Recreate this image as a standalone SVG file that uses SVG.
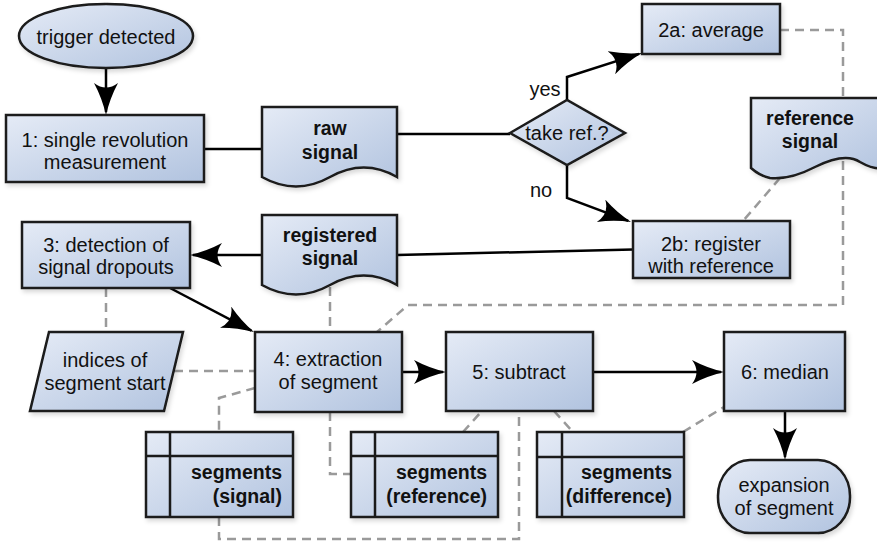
<svg xmlns="http://www.w3.org/2000/svg" width="877" height="546" viewBox="0 0 877 546">
<defs>
<linearGradient id="g" x1="0" y1="0" x2="1" y2="1">
<stop offset="0" stop-color="#e5ebf6"/>
<stop offset="1" stop-color="#b1c3df"/>
</linearGradient>
<filter id="sh" x="-10%" y="-10%" width="130%" height="130%">
<feDropShadow dx="2" dy="3" stdDeviation="2" flood-color="#000" flood-opacity="0.15"/>
</filter>
<marker id="arr" markerUnits="userSpaceOnUse" markerWidth="34" markerHeight="26" refX="29" refY="12" orient="auto">
<path d="M0,0 Q15,8 32,12 Q15,16 0,24 Q9,12 0,0 Z" fill="#000"/>
</marker>
<style>
.n{fill:url(#g);stroke:#1a1a1a;stroke-width:2.5;filter:url(#sh)}
.ln{fill:none;stroke:#1a1a1a;stroke-width:2.5}
.s{fill:none;stroke:#000;stroke-width:2.5}
.a{fill:none;stroke:#000;stroke-width:2.5;marker-end:url(#arr)}
.d{fill:none;stroke:#9a9a9a;stroke-width:2.5;stroke-dasharray:9,6}
text{font-family:"Liberation Sans",Arial,sans-serif;font-size:20px;fill:#111;text-anchor:middle}
.b{font-weight:bold;font-size:19.5px}
.r{text-anchor:end}
</style>
</defs>
<g id="connectors">
<path class="a" d="M106,68 V112"/>
<path class="s" d="M204,149 H262"/>
<path class="s" d="M397,134 H510"/>
<path class="a" d="M567,100 V77 L639.1,53.9"/>
<path class="a" d="M567,165 V198 L628.2,220.9"/>
<path class="s" d="M633,249.5 L397,255"/>
<path class="a" d="M262,255 H193"/>
<path class="a" d="M170,288 L251.3,330.6"/>
<path class="a" d="M402,372 H443"/>
<path class="a" d="M593,372 H721"/>
<path class="a" d="M785,411 V457"/>
<path class="d" d="M780,30 H843 V98"/>
<path class="d" d="M843,161 V305 H408 L377,332"/>
<path class="d" d="M780,178 L743,221"/>
<path class="d" d="M106,288 V332"/>
<path class="d" d="M330,287 V332"/>
<path class="d" d="M174,371 H255"/>
<path class="d" d="M255,388 L219,398 V432"/>
<path class="d" d="M219,517 V539 H519 V411"/>
<path class="d" d="M330,412 V474 H351"/>
<path class="d" d="M463,432 L482,411"/>
<path class="d" d="M554,411 L573,432"/>
<path class="d" d="M683,432 L724,407"/>
</g>
<g id="trigger">
<ellipse class="n" cx="106" cy="36" rx="87" ry="32"/>
<text x="106" y="44">trigger detected</text>
</g>
<g id="step1">
<rect class="n" x="6" y="115" width="198" height="67"/>
<text x="105" y="147">1: single revolution</text>
<text x="105" y="169">measurement</text>
</g>
<g id="rawsignal">
<path class="n" d="M262,107 H397 V177 Q364,158 330,177 T262,177 Z"/>
<text class="b" x="330" y="135">raw</text>
<text class="b" x="330" y="159">signal</text>
</g>
<g id="decision">
<polygon class="n" points="510,133 567,100 625,133 567,165"/>
<text x="567" y="140">take ref.?</text>
<text x="545" y="96">yes</text>
<text x="541" y="197">no</text>
</g>
<g id="step2a">
<rect class="n" x="642" y="4" width="138" height="50"/>
<text x="711" y="37">2a: average</text>
</g>
<g id="refsignal">
<path class="n" d="M751,98 H884 V168 Q874,170 860,162 Q845,152 815,167 Q790,180 770,178 Q760,176 751,168 Z"/>
<text class="b" x="810" y="125">reference</text>
<text class="b" x="810" y="148">signal</text>
</g>
<g id="step2b">
<rect class="n" x="633" y="221" width="157" height="57"/>
<text x="711" y="251">2b: register</text>
<text x="711" y="273">with reference</text>
</g>
<g id="regsignal">
<path class="n" d="M262,215 H397 V285 Q364,266 330,285 T262,285 Z"/>
<text class="b" x="330" y="242">registered</text>
<text class="b" x="330" y="265">signal</text>
</g>
<g id="step3">
<rect class="n" x="22" y="222" width="168" height="66"/>
<text x="106" y="252">3: detection of</text>
<text x="106" y="274">signal dropouts</text>
</g>
<g id="indices">
<polygon class="n" points="49,332 183,332 164,411 30,411"/>
<text x="105" y="367">indices of</text>
<text x="105" y="390">segment start</text>
</g>
<g id="step4">
<rect class="n" x="255" y="332" width="147" height="80"/>
<text x="328" y="366">4: extraction</text>
<text x="328" y="389">of segment</text>
</g>
<g id="step5">
<rect class="n" x="446" y="332" width="147" height="79"/>
<text x="519" y="379">5: subtract</text>
</g>
<g id="step6">
<rect class="n" x="724" y="332" width="121" height="79"/>
<text x="785" y="379">6: median</text>
</g>
<g id="segsignal">
<rect class="n" x="146" y="432" width="147" height="85"/>
<path class="ln" d="M170,432 V517 M146,456 H293"/>
<text class="b r" x="282" y="479">segments</text>
<text class="b r" x="282" y="503">(signal)</text>
</g>
<g id="segref">
<rect class="n" x="351" y="432" width="147" height="85"/>
<path class="ln" d="M375,432 V517 M351,456 H498"/>
<text class="b r" x="487" y="479">segments</text>
<text class="b r" x="487" y="503">(reference)</text>
</g>
<g id="segdiff">
<rect class="n" x="537" y="432" width="147" height="85"/>
<path class="ln" d="M562,432 V517 M537,457 H684"/>
<text class="b r" x="672" y="479">segments</text>
<text class="b r" x="672" y="503">(difference)</text>
</g>
<g id="expansion">
<rect class="n" x="718" y="460" width="132" height="73" rx="32" ry="36"/>
<text x="784" y="492">expansion</text>
<text x="784" y="515">of segment</text>
</g>
</svg>
